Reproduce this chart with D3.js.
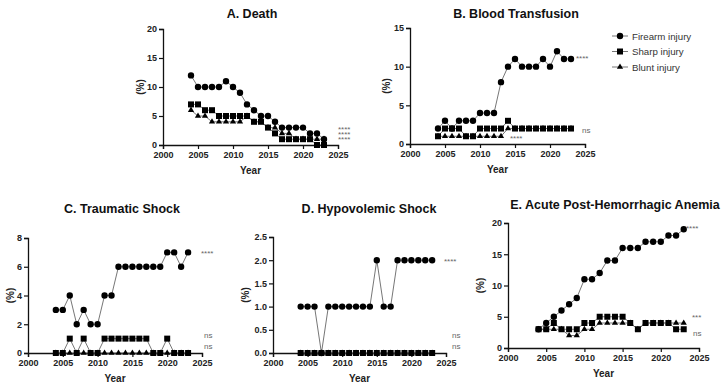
<!DOCTYPE html>
<html><head><meta charset="utf-8">
<script src="https://cdn.jsdelivr.net/npm/d3@7"></script>
<style>
html,body{margin:0;padding:0;background:#fff;}
svg{display:block;font-family:"Liberation Sans",Arial,sans-serif;}
</style></head>
<body><svg id="c" width="724" height="387"></svg>
<script>
const years = [2004,2005,2006,2007,2008,2009,2010,2011,2012,2013,2014,2015,2016,2017,2018,2019,2020,2021,2022,2023];
const seriesNames = ["Firearm injury","Sharp injury","Blunt injury"];

const deathFirearm = [12,10,10,10,10,11,10,9,7,6,5,5,4,3,3,3,3,2,2,1];
const deathSharp   = [7,7,6,6,5,5,5,5,5,4,4,3,2,1,1,1,1,1,0,0];
const deathBlunt   = [6,5,5,4,4,4,4,4,5,4,4,3,3,2,2,1,1,1,1,1];

const transFirearm = [2,3,2,3,3,3,4,4,4,8,10,11,10,10,10,11,10,12,11,11];
const transSharp   = [1,2,2,2,1,1,2,2,2,2,3,2,2,2,2,2,2,2,2,2];
const transBlunt   = [1,1,1,1,1,1,1,1,1,1,2,2,2,2,2,2,2,2,2,2];

const traumFirearm = [3,3,4,2,3,2,2,4,4,6,6,6,6,6,6,6,7,7,6,7];
const traumSharp   = [0,0,1,0,1,0,0,1,1,1,1,1,1,1,0,0,1,0,0,0];
const traumBlunt   = [0,0,0,0,0,0,0,0,0,0,0,0,0,0,0,0,0,0,0,0];

const hypoFirearm = [1,1,1,0,1,1,1,1,1,1,1,2,1,1,2,2,2,2,2,2];
const hypoSharp   = [0,0,0,0,0,0,0,0,0,0,0,0,0,0,0,0,0,0,0,0];
const hypoBlunt   = [0,0,0,0,0,0,0,0,0,0,0,0,0,0,0,0,0,0,0,0];

const anemFirearm = [3,4,5,6,7,8,11,11,12,14,14,16,16,16,17,17,17,18,18,19];
const anemSharp   = [3,3,4,3,3,3,4,4,5,5,5,5,4,3,4,4,4,4,3,3];
const anemBlunt   = [3,3,3,3,2,2,3,3,4,4,4,4,4,3,4,4,4,4,4,4];

const xTicks = [2000,2005,2010,2015,2020,2025];
const ticksA = [0,5,10,15,20];
const ticksB = [0,5,10,15];
const ticksC = [0,2,4,6,8];
const ticksD = [0,0.5,1,1.5,2,2.5];
const ticksE = [0,5,10,15,20];

const svg = d3.select("#c");

const panels = [
  {title:"A. Death", data:[deathFirearm,deathSharp,deathBlunt], yMax:20, ticks:ticksA, fmt:d3.format("d"),
   x0:163, x1:338, y0:145, y1:29, tx:252, ty:18, lx:141,
   notes:[[["****","****","****"],338,132]]},
  {title:"B. Blood Transfusion", data:[transFirearm,transSharp,transBlunt], yMax:15, ticks:ticksB, fmt:d3.format("d"),
   x0:410, x1:585, y0:144, y1:28, tx:516, ty:18, lx:387,
   notes:[[["****"],576,61],[["ns"],582,133],[["****"],510,141]]},
  {title:"C. Traumatic Shock", data:[traumFirearm,traumSharp,traumBlunt], yMax:8, ticks:ticksC, fmt:d3.format("d"),
   x0:28, x1:202, y0:353, y1:238, tx:122, ty:213, lx:11,
   notes:[[["****"],201,256],[["ns"],204,338],[["ns"],204,349]]},
  {title:"D. Hypovolemic Shock", data:[hypoFirearm,hypoSharp,hypoBlunt], yMax:2.5, ticks:ticksD, fmt:d3.format(".1f"),
   x0:273, x1:446, y0:353, y1:237, tx:369, ty:213, lx:246,
   notes:[[["****"],444,264],[["ns"],452,338],[["ns"],452,349]]},
  {title:"E. Acute Post-Hemorrhagic Anemia", data:[anemFirearm,anemSharp,anemBlunt], yMax:20, ticks:ticksE, fmt:d3.format("d"),
   x0:508, x1:699, y0:348, y1:223, tx:615, ty:209, lx:481,
   notes:[[["****"],686,231],[["***"],692,320],[["ns"],693,336]]}
];

const lineCol = "#666";
const symbols = [d3.symbolCircle, d3.symbolSquare, d3.symbolTriangle];
const symSizes = [32, 36, 17];

function drawMarker(g, k, x, y) {
  g.append("path")
    .attr("d", d3.symbol().type(symbols[k]).size(symSizes[k])())
    .attr("transform", `translate(${x},${y})`)
    .attr("fill", "#000");
}

panels.forEach(p => {
  const x = d3.scaleLinear().domain([2000,2025]).range([p.x0,p.x1]);
  const y = d3.scaleLinear().domain([0,p.yMax]).range([p.y0,p.y1]);
  const g = svg.append("g");

  g.append("text").attr("x", p.tx).attr("y", p.ty).attr("text-anchor","middle")
    .attr("font-size", 12.5).attr("font-weight","bold").attr("fill","#111").text(p.title);

  const xa = g.append("g").attr("transform",`translate(0,${p.y0})`)
    .call(d3.axisBottom(x).tickValues(xTicks).tickFormat(d3.format("d")).tickSize(4).tickPadding(3));
  const ya = g.append("g").attr("transform",`translate(${p.x0},0)`)
    .call(d3.axisLeft(y).tickValues(p.ticks).tickFormat(p.fmt).tickSize(4).tickPadding(2));
  [xa,ya].forEach(a => {
    a.select(".domain").attr("stroke","#111").attr("stroke-width",1.3);
    a.selectAll(".tick line").attr("stroke","#111").attr("stroke-width",1.2);
    a.selectAll(".tick text").attr("font-size",9).attr("font-weight","bold").attr("fill","#222")
      .attr("font-family","\"Liberation Sans\",Arial,sans-serif");
  });

  g.append("text").attr("x", (p.x0+p.x1)/2).attr("y", p.y0+29).attr("text-anchor","middle")
    .attr("font-size",10).attr("font-weight","bold").attr("fill","#222").text("Year");
  g.append("text").attr("transform",`translate(${p.lx},${(p.y0+p.y1)/2}) rotate(-90)`)
    .attr("text-anchor","middle").attr("dominant-baseline","middle")
    .attr("font-size",10).attr("font-weight","bold").attr("fill","#222").text("(%)");

  const line = d3.line().x((d,i)=>x(years[i])).y(d=>y(d));
  p.data.forEach((s,k) => {
    g.append("path").datum(s).attr("d", line).attr("fill","none")
      .attr("stroke", lineCol).attr("stroke-width", 0.9);
  });
  p.data.forEach((s,k) => {
    s.forEach((v,i) => drawMarker(g, k, x(years[i]), y(v)));
  });

  p.notes.forEach(n => {
    const t = g.append("text").attr("x", n[1]).attr("y", n[2]).attr("font-size", 8)
      .attr("fill","#666");
    n[0].forEach((s,j) => t.append("tspan").attr("x", n[1]).attr("dy", j===0 ? 0 : 5).text(s));
  });
});

// legend
const lg = svg.append("g");
seriesNames.forEach((name,k) => {
  const yy = 36 + k*15.5;
  lg.append("line").attr("x1",612).attr("x2",628).attr("y1",yy).attr("y2",yy)
    .attr("stroke",lineCol).attr("stroke-width",0.9);
  drawMarker(lg, k, 620, yy);
  lg.append("text").attr("x",632).attr("y",yy+3.5).attr("font-size",9.7)
    .attr("fill","#333").text(name);
});
</script>
</body></html>
